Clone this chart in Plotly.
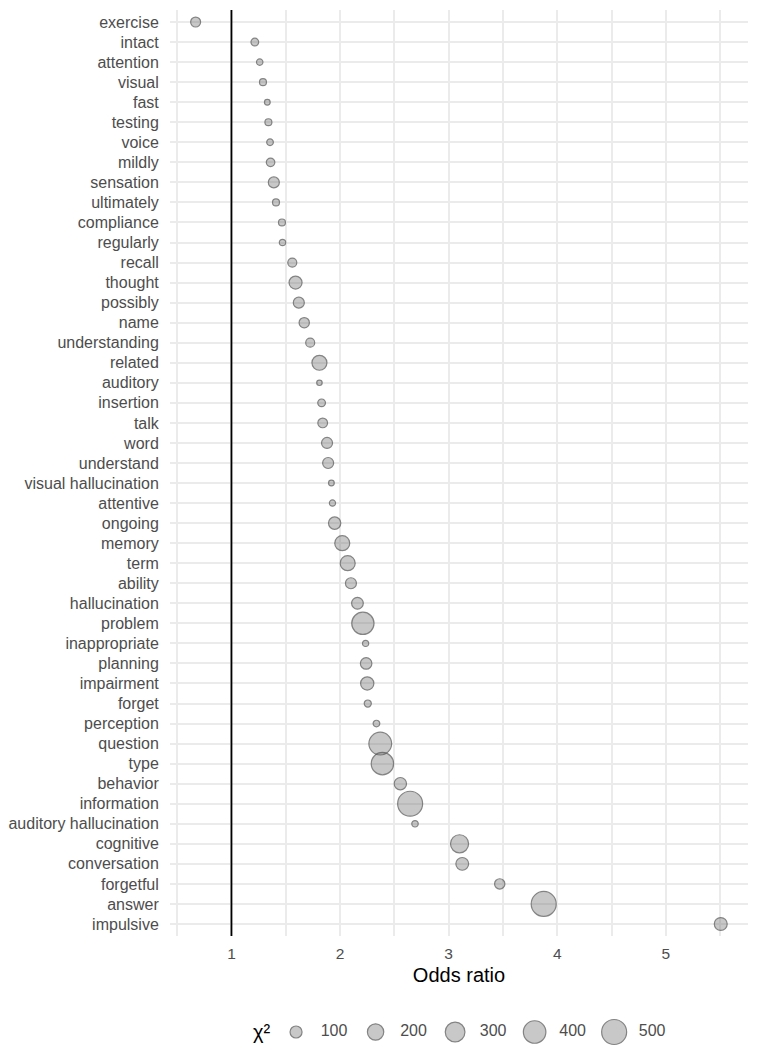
import numpy as np
import plotly.graph_objects as go

# words ordered top -> bottom as in the chart
words = ["exercise", "intact", "attention", "visual", "fast", "testing", "voice",
         "mildly", "sensation", "ultimately", "compliance", "regularly", "recall",
         "thought", "possibly", "name", "understanding", "related", "auditory",
         "insertion", "talk", "word", "understand", "visual hallucination",
         "attentive", "ongoing", "memory", "term", "ability", "hallucination",
         "problem", "inappropriate", "planning", "impairment", "forget",
         "perception", "question", "type", "behavior", "information",
         "auditory hallucination", "cognitive", "conversation", "forgetful",
         "answer", "impulsive"]

odds_ratio = [0.67, 1.215, 1.26, 1.29, 1.33, 1.34, 1.355, 1.36, 1.39, 1.41, 1.465,
              1.47, 1.56, 1.59, 1.62, 1.67, 1.725, 1.81, 1.81, 1.83, 1.84, 1.88,
              1.89, 1.92, 1.93, 1.95, 2.02, 2.07, 2.10, 2.16, 2.21, 2.235, 2.24,
              2.25, 2.255, 2.335, 2.37, 2.39, 2.555, 2.645, 2.69, 3.10, 3.125,
              3.47, 3.875, 5.505]

chi2 = [65, 35, 22, 27, 16, 27, 24, 45, 82, 27, 27, 22, 51, 120, 82, 70, 51, 165,
        14, 35, 61, 82, 82, 16, 20, 106, 165, 165, 82, 94, 390, 20, 90, 125, 28,
        24, 410, 395, 106, 500, 22, 250, 115, 70, 500, 118]

legend_vals = [100, 200, 300, 400, 500]
ref_line = 1


def size_px(v):
    # marker diameter, sqrt-scaled like an area scale
    return 1.5 + 1.05 * np.sqrt(np.asarray(v, dtype=float))


fill = "rgba(100,100,100,0.5)"
edge = "#505050"
txt_grey = "#4D4D4D"
grid = "#EBEBEB"
font_fam = "Liberation Sans, Arial, sans-serif"
plot_bottom = 0.1096

fig = go.Figure()

fig.add_trace(go.Scatter(x=odds_ratio, y=words, mode="markers",
                         marker=dict(size=size_px(chi2), color=fill,
                                     line=dict(color=edge, width=1.2)),
                         showlegend=False, cliponaxis=False))

# size legend drawn on its own small axis
idx = list(range(len(legend_vals)))
fig.add_trace(go.Scatter(x=idx, y=[0] * len(idx), mode="markers",
                         marker=dict(size=size_px(legend_vals), color=fill,
                                     line=dict(color=edge, width=1.2)),
                         xaxis="x2", yaxis="y2", showlegend=False, cliponaxis=False))
fig.add_trace(go.Scatter(x=[i + 0.31 for i in idx], y=[0] * len(idx), mode="text",
                         text=[str(v) for v in legend_vals], textposition="middle right",
                         textfont=dict(size=16, color=txt_grey, family=font_fam),
                         xaxis="x2", yaxis="y2", showlegend=False, cliponaxis=False))

fig.add_annotation(x=-0.44, y=0, xref="x2", yref="y2", text="χ²", showarrow=False,
                   font=dict(size=20, color="black", family=font_fam))

fig.add_shape(type="line", x0=ref_line, x1=ref_line, y0=plot_bottom, y1=1,
              xref="x", yref="paper", line=dict(color="black", width=1.8), layer="above")

fig.update_layout(
    width=749, height=1042,
    margin=dict(l=162, r=9, t=2, b=0),
    plot_bgcolor="white", paper_bgcolor="white",
    font=dict(family=font_fam, color=txt_grey),
    xaxis=dict(range=[0.434, 5.756], dtick=1, tick0=0, showgrid=True,
               gridcolor=grid, gridwidth=1.8, zeroline=False, showline=False,
               minor=dict(dtick=0.5, tick0=0, showgrid=True, gridcolor=grid, gridwidth=1.5),
               ticks="outside", ticklen=3, tickcolor="rgba(0,0,0,0)",
               tickfont=dict(size=15.5, color=txt_grey),
               title=dict(text="Odds ratio", standoff=7,
                          font=dict(size=20, color="black")),
               anchor="y", automargin=False),
    yaxis=dict(domain=[plot_bottom, 1], categoryorder="array", categoryarray=words,
               range=[len(words) - 0.4, -0.6], showgrid=True, gridcolor=grid,
               gridwidth=1.8, zeroline=False, showline=False,
               ticks="outside", ticklen=7, tickcolor="rgba(0,0,0,0)",
               tickfont=dict(size=16, color=txt_grey), automargin=False),
    xaxis2=dict(domain=[0.0805, 0.906], range=[-1, 5], visible=False, anchor="y2"),
    yaxis2=dict(domain=[0, 0.0346], range=[-1, 1], visible=False, anchor="x2"),
)

fig.write_html("out.html")
